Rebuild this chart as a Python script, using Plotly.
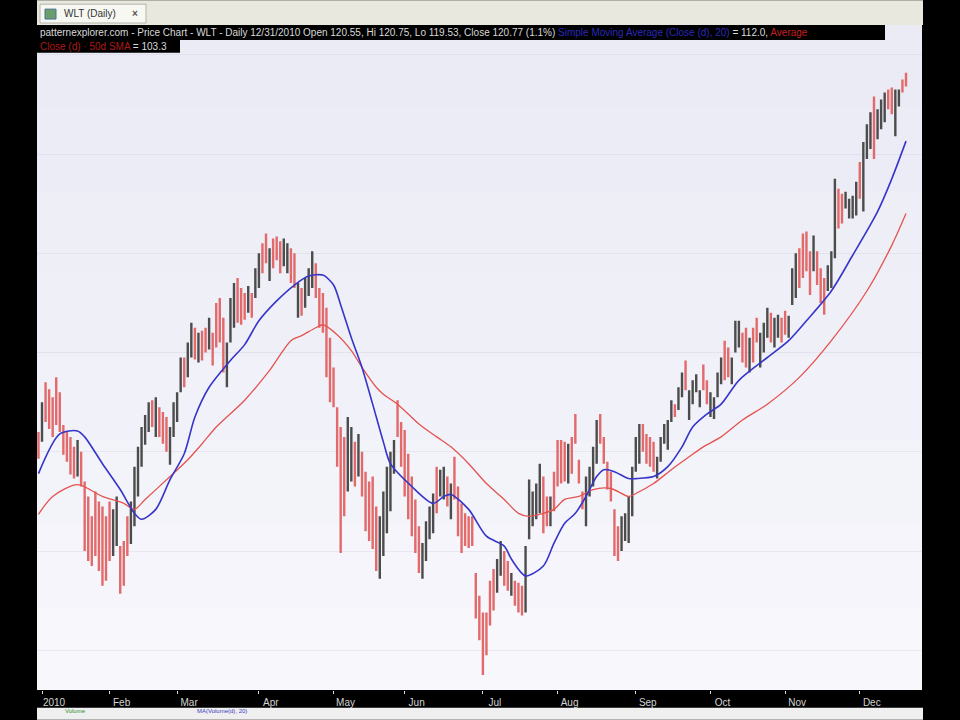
import plotly.graph_objects as go

# ---- data ----
opens = [
    91.5, 92.0, 96.2, 95.5, 94.8, 96.5, 95.0, 92.2, 91.4, 90.8,
    89.9, 88.3, 89.4, 86.0, 84.3, 82.6, 85.0, 84.0, 83.2, 82.4,
    84.0, 80.6, 81.6, 79.8, 80.2, 82.8, 81.6, 83.8, 86.6, 89.3,
    91.3, 92.6, 94.7, 92.4, 93.9, 93.4, 92.8, 89.5, 92.3, 93.6,
    96.7, 98.9, 98.2, 100.2, 101.9, 99.6, 101.6, 102.0, 100.9, 101.4,
    104.1, 104.6, 102.4, 97.4, 101.9, 103.4, 106.6, 105.8, 105.5, 104.5,
    105.5, 106.1, 107.2, 110.4, 111.4, 107.9, 110.9, 111.2, 110.6, 109.3,
    108.6, 109.8, 109.3, 104.2, 106.0, 105.1, 106.3, 107.2, 108.3, 105.7,
    105.2, 103.1, 100.2, 97.7, 93.3, 90.0, 89.9, 87.5, 88.1, 90.1,
    88.4, 89.1, 86.8, 85.8, 86.0, 83.2, 78.5, 80.8, 83.1, 85.2,
    88.5, 94.5, 92.1, 90.9, 88.5, 86.3, 84.1, 81.6, 77.9, 79.8,
    81.9, 82.6, 87.6, 86.0, 85.9, 86.9, 83.9, 88.6, 85.5, 83.8,
    83.1, 82.9, 82.9, 76.9, 74.6, 72.5, 73.0, 76.1, 77.4, 76.5,
    78.2, 79.3, 78.4, 76.0, 76.5, 76.2, 75.9, 74.8, 82.4, 83.2,
    83.9, 84.8, 86.4, 84.9, 83.1, 87.2, 90.3, 90.3, 90.2, 87.6,
    90.8, 93.2, 88.7, 85.6, 83.5, 86.1, 87.3, 89.7, 93.2, 91.0,
    88.4, 87.4, 83.3, 81.8, 80.7, 81.6, 81.7, 84.5, 88.7, 89.6,
    92.2, 91.2, 90.9, 90.4, 87.7, 89.5, 91.2, 90.8, 93.4, 94.5,
    94.6, 96.0, 98.6, 93.8, 95.3, 96.4, 94.9, 98.3, 96.7, 94.0,
    93.8, 96.0, 97.4, 100.4, 99.9, 97.4, 100.7, 101.1, 101.4, 101.7,
    98.7, 101.8, 103.0, 99.2, 100.6, 102.1, 103.4, 101.1, 102.0, 103.0,
    103.7, 102.0, 105.5, 106.4, 109.7, 111.1, 111.4, 109.3, 108.9, 109.5,
    107.8, 106.8, 106.7, 107.2, 110.0, 115.7, 115.4, 114.8, 113.9, 113.9,
    114.4, 118.5, 115.5, 120.2, 121.2, 124.8, 122.1, 123.1, 123.8, 126.1,
    126.2, 122.8, 125.1, 127.2, 127.9,
]
highs = [
    92.0, 95.0, 97.0, 96.3, 95.5, 97.5, 96.0, 92.7, 92.0, 91.5,
    90.5, 91.2, 90.0, 87.0, 85.5, 83.5, 86.0, 85.0, 84.5, 83.5,
    85.0, 84.2, 85.5, 80.5, 81.0, 83.5, 85.0, 88.5, 90.5, 92.5,
    93.7, 95.0, 95.2, 95.5, 94.5, 94.0, 93.5, 92.5, 95.0, 96.0,
    99.5, 99.5, 101.0, 103.0, 102.5, 102.0, 102.2, 102.5, 103.5, 102.0,
    105.0, 105.5, 103.5, 101.0, 105.5, 107.0, 107.5, 106.5, 106.0, 106.7,
    106.0, 108.5, 110.0, 111.0, 112.0, 110.5, 111.5, 111.7, 111.2, 111.5,
    111.0, 110.5, 110.0, 107.0, 106.5, 107.5, 108.5, 110.2, 109.0, 106.5,
    106.0, 104.5, 101.5, 98.5, 94.5, 92.5, 91.5, 93.5, 92.5, 91.0,
    91.8, 90.0, 88.0, 87.0, 87.5, 84.5, 83.5, 86.0, 88.5, 90.0,
    91.2, 95.2, 93.0, 92.2, 89.8, 87.5, 85.2, 82.5, 80.8, 83.0,
    84.5, 85.8, 88.5, 88.2, 88.5, 87.5, 86.8, 89.5, 86.5, 84.8,
    83.8, 83.5, 83.5, 77.8, 75.5, 73.8, 73.8, 77.0, 78.2, 79.2,
    81.0, 80.0, 79.0, 77.8, 77.0, 76.8, 76.5, 80.5, 87.2, 86.0,
    86.8, 88.8, 87.5, 85.5, 85.5, 88.0, 91.2, 91.2, 91.0, 90.8,
    91.5, 93.8, 89.2, 86.0, 87.5, 88.5, 90.5, 93.2, 93.8, 91.5,
    89.0, 88.0, 84.2, 82.5, 83.5, 83.8, 85.5, 88.5, 91.5, 92.8,
    92.8, 91.8, 91.5, 91.0, 89.5, 91.5, 92.8, 93.2, 95.2, 94.8,
    96.5, 98.0, 99.2, 96.2, 97.2, 97.8, 96.2, 98.8, 97.2, 96.0,
    95.5, 98.0, 99.5, 101.2, 100.5, 99.5, 103.2, 103.2, 102.0, 102.5,
    101.5, 102.5, 103.5, 102.0, 103.0, 104.5, 104.0, 103.5, 103.8, 103.5,
    104.2, 103.7, 108.5, 110.0, 110.5, 112.0, 112.2, 110.2, 111.8, 110.2,
    108.5, 107.5, 108.8, 110.2, 117.5, 116.5, 116.0, 116.2, 115.5, 115.8,
    117.2, 119.2, 121.2, 123.0, 124.2, 125.8, 124.5, 125.5, 126.2, 126.5,
    126.7, 126.5, 126.5, 127.5, 128.2,
]
lows = [
    89.3, 91.0, 93.0, 92.3, 91.5, 92.7, 92.0, 89.7, 89.0, 87.7,
    87.3, 87.5, 86.5, 80.0, 79.0, 78.5, 79.5, 78.0, 76.5, 77.0,
    79.0, 79.5, 80.5, 75.7, 76.5, 79.5, 80.7, 82.5, 85.5, 88.5,
    90.7, 92.0, 92.5, 91.5, 91.5, 90.8, 90.0, 88.7, 91.5, 93.0,
    96.0, 96.5, 97.5, 99.5, 99.3, 99.0, 99.2, 100.0, 100.3, 98.7,
    100.5, 101.0, 98.0, 96.5, 101.0, 102.5, 103.0, 102.8, 103.3, 104.0,
    103.5, 105.5, 106.5, 108.0, 109.0, 107.2, 108.5, 109.3, 108.0, 108.7,
    108.0, 107.0, 106.5, 103.5, 103.7, 104.5, 105.7, 106.5, 105.5, 102.5,
    102.0, 97.5, 95.0, 94.5, 88.5, 79.8, 83.5, 86.0, 87.0, 86.5,
    87.5, 85.5, 82.0, 81.0, 80.2, 78.0, 77.2, 79.5, 81.8, 84.0,
    87.8, 91.5, 88.5, 85.5, 83.2, 81.5, 79.8, 77.8, 77.2, 79.0,
    81.2, 81.8, 83.8, 85.5, 85.2, 84.5, 83.2, 85.2, 81.5, 79.8,
    80.5, 80.3, 80.5, 73.2, 71.0, 67.5, 69.5, 72.5, 74.0, 75.8,
    77.5, 76.5, 76.0, 75.5, 74.5, 73.8, 73.5, 73.8, 81.2, 82.5,
    83.2, 83.8, 81.8, 82.5, 82.5, 84.0, 86.5, 86.8, 87.0, 86.8,
    87.8, 90.8, 86.8, 84.2, 82.5, 85.5, 86.5, 88.8, 90.8, 88.8,
    86.2, 85.0, 79.5, 79.0, 80.0, 81.0, 80.8, 83.5, 88.0, 88.8,
    90.0, 88.8, 88.5, 88.0, 87.3, 89.0, 90.8, 90.2, 93.0, 93.5,
    94.2, 95.5, 96.2, 93.2, 94.8, 96.0, 94.5, 96.2, 94.8, 93.5,
    93.3, 95.5, 96.8, 97.2, 97.5, 96.8, 100.0, 100.5, 99.0, 98.5,
    98.0, 99.0, 101.0, 98.5, 100.0, 101.5, 101.0, 100.5, 101.5, 101.0,
    101.8, 101.5, 104.8, 105.5, 106.5, 107.5, 108.2, 105.8, 108.2, 106.8,
    105.0, 103.8, 106.2, 106.5, 109.5, 112.5, 113.0, 114.5, 113.5, 113.5,
    113.8, 115.5, 114.2, 119.5, 120.5, 119.5, 121.5, 122.5, 123.2, 124.5,
    124.0, 121.8, 124.8, 126.2, 126.8,
]
closes = [
    89.8, 94.3, 94.0, 93.2, 92.4, 93.8, 93.0, 90.3, 89.6, 88.4,
    87.9, 90.6, 87.2, 81.5, 80.2, 79.4, 80.8, 79.2, 77.8, 78.3,
    80.1, 83.4, 84.6, 76.6, 77.4, 80.3, 84.3, 87.5, 89.6, 91.8,
    93.1, 94.4, 93.1, 94.8, 92.1, 91.4, 90.7, 91.8, 94.3, 95.4,
    98.8, 97.1, 100.3, 102.3, 99.9, 101.4, 99.8, 100.5, 102.9, 99.3,
    101.4, 101.9, 99.1, 100.1, 104.6, 106.1, 103.9, 103.5, 103.8, 106.2,
    104.0, 107.9, 109.3, 108.6, 109.6, 109.8, 109.1, 109.8, 108.6, 111.0,
    110.4, 107.7, 107.2, 106.3, 104.2, 106.9, 108.0, 109.5, 106.2, 103.3,
    102.8, 98.9, 96.3, 95.3, 89.7, 82.3, 85.1, 92.0, 91.4, 87.4,
    90.9, 86.4, 83.2, 82.2, 81.7, 79.3, 82.2, 84.7, 87.2, 88.8,
    90.5, 92.2, 89.4, 86.8, 84.5, 82.7, 80.9, 78.7, 80.1, 82.2,
    83.8, 85.0, 84.7, 87.7, 87.8, 85.1, 86.1, 86.1, 82.5, 80.8,
    81.2, 81.0, 81.1, 74.1, 71.9, 68.8, 70.4, 73.4, 74.8, 78.5,
    80.3, 77.2, 76.6, 77.3, 75.0, 74.4, 74.1, 79.8, 86.0, 85.3,
    86.1, 87.8, 82.9, 83.1, 84.9, 84.8, 87.4, 87.7, 87.8, 90.0,
    88.5, 91.4, 87.3, 84.6, 86.5, 87.9, 89.7, 92.3, 91.4, 89.3,
    86.8, 85.6, 80.4, 79.7, 82.8, 83.2, 84.6, 87.5, 90.8, 92.0,
    90.6, 89.4, 89.1, 88.6, 89.1, 91.0, 92.4, 92.6, 94.8, 93.8,
    96.1, 97.5, 96.8, 95.6, 96.7, 97.4, 95.8, 96.7, 95.3, 95.5,
    95.1, 97.5, 99.0, 98.0, 98.1, 99.0, 102.6, 102.7, 99.6, 99.3,
    100.8, 99.7, 101.5, 101.3, 102.4, 103.9, 101.6, 102.9, 103.3, 101.5,
    102.3, 103.3, 107.8, 109.1, 107.3, 108.4, 109.0, 106.7, 111.1, 107.5,
    105.7, 104.5, 108.3, 109.5, 116.4, 113.3, 113.6, 115.9, 115.1, 115.4,
    116.6, 116.2, 120.0, 122.3, 123.5, 121.0, 123.9, 124.9, 125.6, 124.9,
    124.6, 125.7, 126.2, 126.5, 127.1,
]

# moving averages at selected bars
sma20_bar = [0, 6, 11, 13, 18, 23, 27, 29, 33, 37, 41, 44, 48, 54, 58, 62, 67, 72, 76, 80,
             83, 85, 88, 91, 94, 97, 99, 105, 111, 114, 116, 121, 126, 131, 133, 137, 142,
             145, 148, 151, 154, 157, 159, 162, 166, 168, 173, 177, 181, 184, 188, 192, 197,
             205, 211, 216, 223, 229, 236, 240, 244]
sma20 = [87.8, 91.8, 92.1, 91.5, 88.8, 86.2, 83.8, 83.2, 84.2, 87.2, 89.8, 93.5, 96.5, 99.2,
         100.8, 103.2, 105.2, 106.8, 107.7, 107.8, 106.8, 104.8, 101.5, 98.5, 94.8, 91.0, 88.8,
         86.5, 84.8, 85.5, 85.7, 84.2, 81.5, 80.5, 79.2, 77.5, 78.5, 80.8, 82.8, 83.8, 85.5,
         87.5, 88.2, 88.0, 87.3, 87.3, 87.5, 88.5, 90.5, 92.5, 93.8, 94.8, 97.2, 99.5, 101.2,
         103.2, 106.2, 109.8, 114.2, 117.5, 121.3]

sma50_bar = [0, 4, 11, 18, 24, 27, 30, 37, 42, 46, 50, 58, 65, 71, 74, 78, 80, 84, 88, 91, 95,
             97, 101, 107, 112, 116, 121, 126, 131, 135, 138, 142, 145, 148, 152, 156, 161,
             166, 168, 173, 178, 183, 187, 192, 198, 205, 214, 223, 233, 240, 244]
sma50 = [83.7, 85.5, 86.7, 85.5, 84.8, 84.2, 85.2, 87.5, 89.2, 90.8, 92.5, 95.2, 98.2, 101.2,
         101.7, 102.5, 102.8, 101.8, 100.2, 98.5, 96.5, 95.8, 94.8, 92.8, 91.5, 90.5, 88.8,
         86.8, 85.2, 83.8, 83.5, 83.8, 84.2, 85.2, 85.5, 86.2, 86.3, 85.5, 85.8, 86.8, 88.2,
         89.5, 90.5, 91.5, 93.2, 94.8, 97.5, 101.2, 106.2, 110.8, 114.0]

month_bar = [1, 20, 39, 62, 83, 103, 125, 146, 168, 189, 210, 231]
month_labels = ["2010", "Feb", "Mar", "Apr", "May", "Jun", "Jul", "Aug", "Sep", "Oct", "Nov", "Dec"]

bars = list(range(len(closes)))

# ---- figure ----
W, H = 960, 720
L, R, T, B = 37, 38, 25, 25
ph = H - T - B


def py(ypx):
    return (H - B - ypx) / ph


def px(xpx):
    return (xpx - L) / (W - L - R)


fig = go.Figure()
fig.add_trace(go.Ohlc(
    x=bars, open=opens, high=highs, low=lows, close=closes,
    increasing=dict(line=dict(color="#4c4c4c", width=2.4)),
    decreasing=dict(line=dict(color="#e26a6a", width=2.4)),
    tickwidth=0.25, hoverinfo="skip", showlegend=False,
))
fig.add_trace(go.Scatter(
    x=sma50_bar, y=sma50, mode="lines",
    line=dict(color="#e5534f", width=1.3, shape="spline", smoothing=0.8),
    hoverinfo="skip", showlegend=False,
))
fig.add_trace(go.Scatter(
    x=sma20_bar, y=sma20, mode="lines",
    line=dict(color="#3535c8", width=1.6, shape="spline", smoothing=0.8),
    hoverinfo="skip", showlegend=False,
))

shapes = []
# subtle vertical background gradient inside the plot area
bands = ["#ebebf5", "#ececf6", "#eeeef7", "#efeff8", "#f1f1f9", "#f3f3fa", "#f5f5fb", "#f7f7fc"]
nb = len(bands)
for k, c in enumerate(bands):
    shapes.append(dict(type="rect", xref="paper", yref="paper", x0=0, x1=1,
                       y0=1 - (k + 1) / nb, y1=1 - k / nb, fillcolor=c, line_width=0, layer="below"))
# top tab bar
shapes.append(dict(type="rect", xref="paper", yref="paper", x0=0, x1=px(923), y0=1.0, y1=py(0),
                   fillcolor="#e9e8df", line_width=0, layer="above"))
shapes.append(dict(type="rect", xref="paper", yref="paper", x0=px(40), x1=px(146), y0=py(23), y1=py(4),
                   fillcolor="#f8f8f3", line=dict(color="#b4b3aa", width=1), layer="above"))
shapes.append(dict(type="rect", xref="paper", yref="paper", x0=px(45), x1=px(56), y0=py(19), y1=py(9),
                   fillcolor="#6a9f6a", line=dict(color="#4a6f9a", width=1), layer="above"))
# header boxes
shapes.append(dict(type="rect", xref="paper", yref="paper", x0=0, x1=px(885), y0=py(40), y1=1.0,
                   fillcolor="#000000", line_width=0, layer="above"))
shapes.append(dict(type="rect", xref="paper", yref="paper", x0=0, x1=px(180), y0=py(53), y1=py(40),
                   fillcolor="#000000", line_width=0, layer="above"))
# bottom strip
shapes.append(dict(type="rect", xref="paper", yref="paper", x0=0, x1=px(923), y0=py(725), y1=py(713),
                   fillcolor="#efefef", line_width=0, layer="above"))

font_fam = "Liberation Sans, Arial, sans-serif"
annotations = [
    dict(xref="paper", yref="paper", x=px(62), y=py(13.5), xanchor="left", yanchor="middle",
         text="WLT (Daily)", showarrow=False, font=dict(size=10, color="#333333", family=font_fam)),
    dict(xref="paper", yref="paper", x=px(130), y=py(13.5), xanchor="left", yanchor="middle",
         text="<b>×</b>", showarrow=False, font=dict(size=10, color="#555555", family=font_fam)),
    dict(xref="paper", yref="paper", x=px(38), y=py(32.5), xanchor="left", yanchor="middle",
         text=('<span style="color:#d9d9d9">patternexplorer.com - Price Chart - WLT - Daily 12/31/2010 '
               'Open 120.55, Hi 120.75, Lo 119.53, Close 120.77 (1.1%)</span> '
               '<span style="color:#2a2ab8">Simple Moving Average (Close (d), 20)</span> '
               '<span style="color:#d9d9d9">= 112.0,</span> '
               '<span style="color:#c42020">Average</span>'),
         showarrow=False, font=dict(size=10, family=font_fam)),
    dict(xref="paper", yref="paper", x=px(38), y=py(46.5), xanchor="left", yanchor="middle",
         text=('<span style="color:#b01818">Close (d) · 50d SMA</span> '
               '<span style="color:#d9d9d9">= 103.3</span>'),
         showarrow=False, font=dict(size=10, family=font_fam)),
    dict(xref="paper", yref="paper", x=px(64), y=py(720), xanchor="left", yanchor="bottom",
         text="Volume", showarrow=False, borderpad=0,
         font=dict(size=6, color="#2f8f2f", family=font_fam)),
    dict(xref="paper", yref="paper", x=px(196), y=py(720), xanchor="left", yanchor="bottom",
         text="MA(Volume(d), 20)", showarrow=False, borderpad=0,
         font=dict(size=6, color="#3a3ac0", family=font_fam)),
]

fig.update_layout(
    width=W, height=H,
    margin=dict(l=L, r=R, t=T, b=B, pad=0),
    paper_bgcolor="#000000",
    plot_bgcolor="#f1f1f9",
    shapes=shapes,
    annotations=annotations,
    showlegend=False,
    font=dict(family=font_fam),
    xaxis=dict(
        range=[-0.41, 248.5], tickmode="array", tickvals=month_bar, ticktext=month_labels,
        ticks="outside", ticklen=3, tickcolor="#dcdcdc", tickwidth=1,
        tickfont=dict(size=10, color="#d4d4d4", family=font_fam),
        ticklabelshift=12, ticklabelstandoff=0, showgrid=False, zeroline=False, showline=False,
        rangeslider=dict(visible=False), fixedrange=True,
    ),
    yaxis=dict(
        range=[66.0, 133.0], showticklabels=False, ticks="",
        showgrid=True, gridcolor="rgba(205,205,225,0.35)", dtick=10,
        zeroline=False, showline=False, fixedrange=True,
    ),
)

fig.write_html("out.html", config={"displayModeBar": False},
               post_script="document.body.style.margin='0px';document.body.style.padding='0px';")
